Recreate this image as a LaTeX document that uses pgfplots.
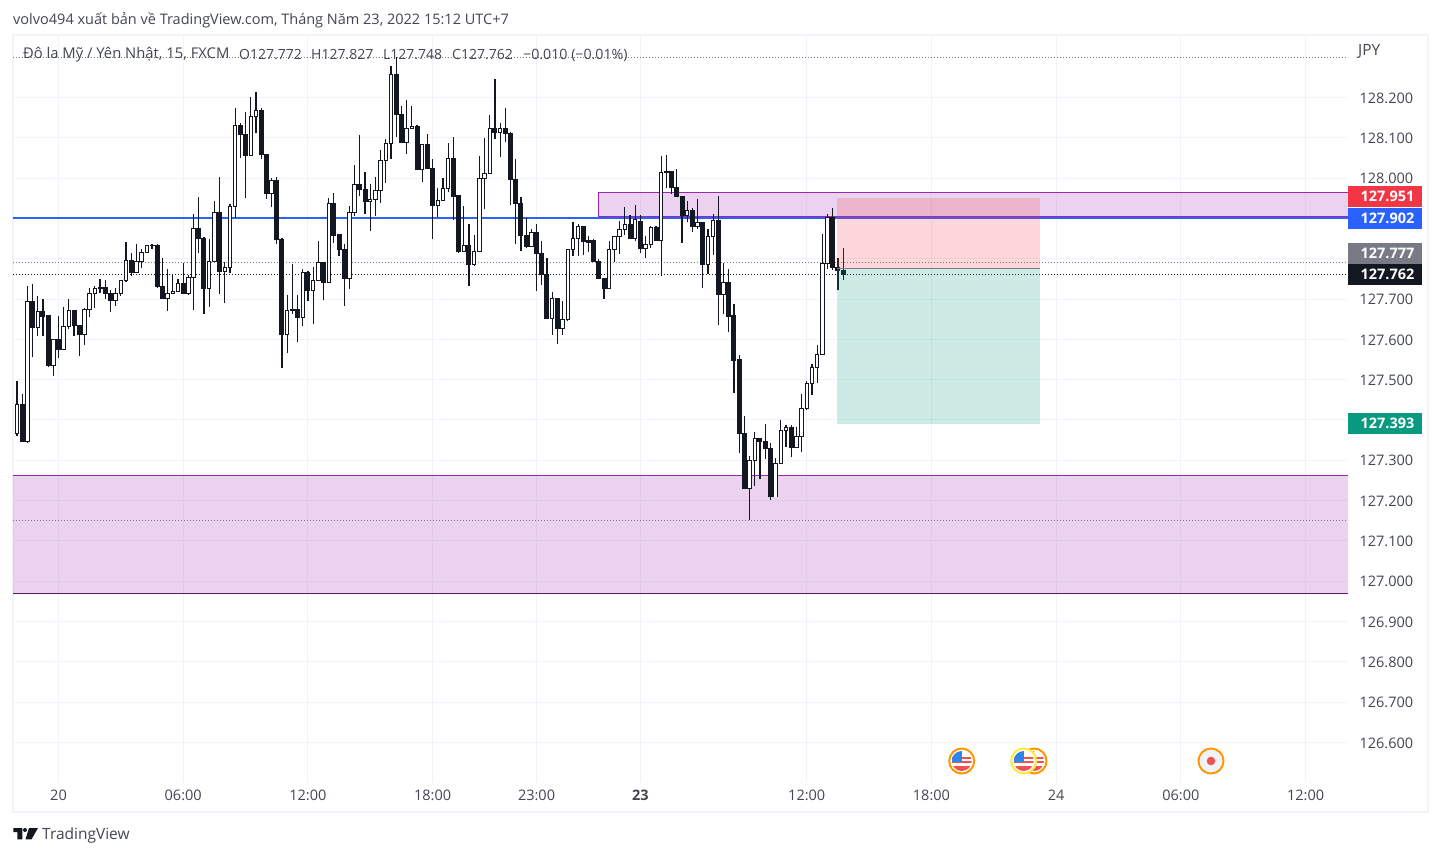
\documentclass[border=0pt]{standalone}
\usepackage{fontspec}
\setmainfont{Open Sans}
\usepackage{pgfplots}
\usepackage{pgfplotstable}
\pgfplotsset{compat=1.18}

\definecolor{candle}{HTML}{131722}
\definecolor{gridc}{HTML}{F0F3FA}
\definecolor{txt}{HTML}{434651}
\definecolor{zone}{HTML}{9C27B0}
\definecolor{tvblue}{HTML}{2962FF}
\definecolor{tvred}{HTML}{F23645}
\definecolor{tvgray}{HTML}{787B86}
\definecolor{tvteal}{HTML}{089981}
\definecolor{ringo}{HTML}{FF9800}
\definecolor{ringy}{HTML}{FFEB3B}
\definecolor{flagr}{HTML}{EF5350}
\definecolor{flagb}{HTML}{2E86E8}

% i open high low close, 15 minute candles
\pgfplotstableread{
i o h l c
-8 127.367 127.497 127.361 127.439
-6 127.346 127.732 127.344 127.694
-4 127.630 127.707 127.609 127.669
-1 127.535 127.600 127.510 127.600
1 127.575 127.680 127.575 127.632
2 127.632 127.700 127.625 127.672
5 127.612 127.679 127.586 127.674
6 127.674 127.727 127.656 127.714
7 127.714 127.732 127.677 127.727
11 127.697 127.727 127.684 127.714
12 127.714 127.747 127.707 127.746
13 127.746 127.841 127.743 127.796
15 127.766 127.836 127.766 127.793
16 127.793 127.823 127.778 127.816
17 127.816 127.833 127.816 127.833
21 127.702 127.774 127.671 127.714
22 127.714 127.761 127.714 127.719
23 127.719 127.750 127.718 127.739
25 127.714 127.760 127.710 127.754
26 127.754 127.910 127.674 127.875
29 127.726 127.848 127.681 127.793
30 127.793 127.943 127.793 127.915
32 127.769 127.793 127.691 127.779
33 127.779 127.937 127.765 127.930
34 127.930 128.173 127.902 128.131
37 128.056 128.201 128.056 128.153
38 128.153 128.213 128.113 128.168
41 127.961 128.000 127.929 127.994
44 127.612 127.710 127.567 127.672
47 127.655 127.774 127.633 127.766
49 127.722 127.779 127.638 127.746
50 127.746 127.843 127.746 127.791
52 127.741 127.951 127.741 127.937
56 127.750 127.932 127.726 127.915
57 127.915 128.032 127.907 127.985
60 127.942 127.985 127.869 127.947
61 127.947 128.002 127.907 127.970
62 127.970 128.070 127.938 128.044
63 128.044 128.096 127.989 128.086
64 128.086 128.278 128.047 128.257
67 128.088 128.195 128.061 128.123
68 128.123 128.178 128.123 128.128
70 128.022 128.084 127.990 128.084
73 127.932 127.975 127.903 127.945
74 127.945 128.000 127.945 127.975
75 127.975 128.086 127.966 128.049
78 127.817 127.932 127.817 127.833
80 127.786 127.859 127.783 127.818
81 127.818 128.055 127.818 127.999
82 127.999 128.099 127.923 128.012
83 128.012 128.157 128.012 128.123
85 128.114 128.136 128.052 128.123
91 127.831 127.875 127.830 127.865
95 127.652 127.717 127.611 127.702
97 127.626 127.695 127.611 127.650
98 127.650 127.823 127.645 127.823
99 127.823 127.890 127.808 127.851
100 127.851 127.885 127.808 127.880
106 127.726 127.843 127.726 127.823
107 127.823 127.856 127.792 127.856
108 127.856 127.894 127.812 127.873
109 127.873 127.928 127.859 127.885
111 127.851 127.933 127.844 127.898
113 127.825 127.856 127.802 127.836
114 127.836 127.880 127.827 127.878
116 127.845 128.055 127.758 128.014
121 127.908 127.943 127.890 127.920
123 127.880 127.947 127.875 127.890
125 127.786 127.875 127.762 127.855
126 127.855 127.911 127.809 127.895
128 127.711 127.789 127.663 127.741
133 127.230 127.310 127.152 127.300
134 127.300 127.369 127.236 127.354
138 127.209 127.305 127.209 127.292
139 127.292 127.401 127.292 127.374
140 127.374 127.387 127.333 127.381
142 127.331 127.382 127.331 127.359
143 127.359 127.464 127.320 127.429
144 127.429 127.496 127.424 127.491
145 127.491 127.540 127.463 127.530
146 127.530 127.587 127.491 127.563
147 127.563 127.861 127.563 127.788
148 127.788 127.912 127.774 127.902
}\upcandles

\pgfplotstableread{
i o h l c
-7 127.439 127.464 127.346 127.346
-5 127.694 127.737 127.557 127.630
-3 127.669 127.700 127.609 127.656
-2 127.658 127.660 127.531 127.535
0 127.600 127.657 127.554 127.575
3 127.672 127.674 127.609 127.635
4 127.635 127.635 127.559 127.612
8 127.729 127.750 127.714 127.726
9 127.729 127.747 127.699 127.714
10 127.714 127.722 127.669 127.697
14 127.796 127.813 127.757 127.766
18 127.834 127.836 127.824 127.832
19 127.833 127.836 127.728 127.731
20 127.731 127.803 127.701 127.701
24 127.739 127.789 127.712 127.714
27 127.875 127.953 127.814 127.850
28 127.850 127.855 127.664 127.726
31 127.915 128.002 127.713 127.769
35 128.131 128.136 128.049 128.109
36 128.109 128.163 127.951 128.056
39 128.168 128.173 128.048 128.058
40 128.059 128.059 127.948 127.961
42 127.994 128.002 127.837 127.847
43 127.848 127.851 127.530 127.612
45 127.674 127.787 127.663 127.672
46 127.674 127.710 127.594 127.655
48 127.766 127.770 127.696 127.720
51 127.791 127.791 127.698 127.741
53 127.937 127.962 127.839 127.857
54 127.859 127.859 127.808 127.822
55 127.823 127.836 127.683 127.750
58 127.985 128.106 127.956 127.971
59 127.972 128.015 127.912 127.942
65 128.257 128.300 128.101 128.157
66 128.158 128.179 128.086 128.088
69 128.128 128.132 128.021 128.021
71 128.084 128.109 128.024 128.024
72 128.024 128.047 127.849 127.932
76 128.049 128.101 127.896 127.954
77 127.956 127.958 127.814 127.817
79 127.833 127.886 127.732 127.786
84 128.123 128.246 128.098 128.113
86 128.123 128.173 128.090 128.111
87 128.111 128.115 127.933 127.996
88 127.997 128.047 127.837 127.937
89 127.937 127.953 127.820 127.857
90 127.858 127.900 127.827 127.830
92 127.865 127.885 127.721 127.813
93 127.813 127.843 127.736 127.761
94 127.761 127.803 127.650 127.651
96 127.702 127.703 127.589 127.626
101 127.880 127.880 127.809 127.843
102 127.845 127.856 127.817 127.841
103 127.845 127.848 127.792 127.793
104 127.793 127.799 127.750 127.750
105 127.751 127.751 127.701 127.726
110 127.885 127.908 127.850 127.850
112 127.893 127.908 127.815 127.825
115 127.878 127.880 127.844 127.844
117 128.016 128.057 127.975 128.014
118 128.016 128.016 127.961 127.976
119 127.977 128.023 127.954 127.954
120 127.955 127.956 127.840 127.907
122 127.920 127.926 127.866 127.880
124 127.890 127.890 127.728 127.786
127 127.895 127.955 127.635 127.711
129 127.741 127.774 127.618 127.656
130 127.658 127.687 127.467 127.547
131 127.549 127.561 127.318 127.366
132 127.367 127.411 127.229 127.229
135 127.354 127.354 127.254 127.346
136 127.347 127.391 127.304 127.329
137 127.329 127.344 127.201 127.209
141 127.381 127.387 127.308 127.331
149 127.902 127.927 127.772 127.778
150 127.778 127.803 127.722 127.771
151 127.772 127.827 127.748 127.762
}\downcandles

\newcommand{\fs}[1]{\fontsize{#1}{#1}\selectfont}
\newcommand{\usflag}[3]{%
  \fill[white] (#1,#2) circle (13);
  \begin{scope}
    \clip (#1,#2) circle (10);
    \fill[white] (#1-10,#2-10) rectangle (#1+10,#2+10);
    \fill[flagr] (#1-10,#2-4.5) rectangle (#1+10,#2-2.5);
    \fill[flagr] (#1-10,#2-0.5) rectangle (#1+10,#2+1.5);
    \fill[flagr] (#1-10,#2+5) rectangle (#1+10,#2+10);
    \fill[flagb] (#1-10,#2-10) rectangle (#1,#2+0.5);
  \end{scope}
  \draw[#3,line width=2] (#1,#2) circle (12.5);
}
% candle layers: error bars only, no plot line and no marks
\pgfplotsset{
  bars/.style 2 args={draw=none,no marks,forget plot,error bars/.cd,y dir=plus,y explicit,error mark=none,
    error bar style={draw=#1,line width=#2}},
}

\begin{document}
\begin{tikzpicture}[x=1pt,y=-1pt]
\path[use as bounding box,fill=white] (0,0) rectangle (1441,856);
\draw[gridc,line width=2] (13,35) rectangle (1428,812);

\begin{axis}[
    at={(13pt,-782pt)}, anchor=south west,
    scale only axis, width=1335pt, height=747pt,
    xmin=-8.757, xmax=248.17,
    ymin=126.502, ymax=128.355,
    axis line style={draw=none},
    major tick length=0pt,
    grid=major,
    grid style={gridc,line width=1pt},
    xtick={0,24,48,72,92,112,144,168,192,216,240},
    xticklabels={20,06:00,12:00,18:00,23:00,\textbf{23},12:00,18:00,24,06:00,12:00},
    ytick={126.6,126.7,126.8,126.9,127,127.1,127.2,127.3,127.4,127.5,127.6,127.7,127.8,127.9,128,128.1,128.2},
    yticklabels={126.600,126.700,126.800,126.900,127.000,127.100,127.200,127.300,{},127.500,127.600,127.700,{},{},128.000,128.100,128.200},
    yticklabel pos=right,
    tick label style={font=\fs{14.5},text=txt},
    yticklabel style={xshift=8pt,yshift=-0.5pt},
    xticklabel style={yshift=-4.5pt},
]
% zones
\addplot[draw=none,fill=zone,fill opacity=.2,forget plot] coordinates {(-8.757,127.263) (248.17,127.263) (248.17,126.970) (-8.757,126.970)} -- cycle;
\addplot[zone,line width=1pt,forget plot] coordinates {(-8.757,127.263) (248.17,127.263)};
\addplot[zone!60!black,line width=1pt,forget plot] coordinates {(-8.757,126.970) (248.17,126.970)};
\addplot[tvgray,line width=1pt,dash pattern=on 1pt off 2pt,forget plot] coordinates {(-8.757,127.151) (248.17,127.151)};
\addplot[draw=none,fill=zone,fill opacity=.2,forget plot] coordinates {(103.83,127.965) (248.17,127.965) (248.17,127.902) (103.83,127.902)} -- cycle;
\addplot[zone,line width=1pt,forget plot] coordinates {(248.17,127.965) (103.83,127.965) (103.83,127.904) (248.17,127.904)};
% horizontal levels
\addplot[draw=tvblue,line width=1.1pt,forget plot] coordinates {(-8.757,127.901) (248.17,127.901)};
\addplot[tvgray,line width=1pt,dash pattern=on 1pt off 2pt,forget plot] coordinates {(-8.757,128.298) (248.17,128.298)};
\addplot[tvgray,line width=1pt,dash pattern=on 1pt off 2pt,forget plot] coordinates {(-8.757,127.791) (248.17,127.791)};
\addplot[candle,line width=1pt,dash pattern=on 1pt off 2pt,forget plot] coordinates {(-8.757,127.762) (248.17,127.762)};
% wicks
\addplot[bars={candle}{1.2pt}]
  table[x=i,y=l,y error plus expr=\thisrow{h}-\thisrow{l}] {\upcandles};
\addplot[bars={candle}{1.2pt}]
  table[x=i,y=l,y error plus expr=\thisrow{h}-\thisrow{l}] {\downcandles};
% bodies
\addplot[bars={candle}{5pt}]
  table[x=i,y expr=\thisrow{c}-0.0012,y error plus expr=\thisrow{o}-\thisrow{c}+0.0024] {\downcandles};
\addplot[bars={candle}{4.4pt}]
  table[x=i,y expr=\thisrow{o}-0.0012,y error plus expr=\thisrow{c}-\thisrow{o}+0.0024] {\upcandles};
\addplot[bars={white}{2.4pt}]
  table[x=i,y expr=\thisrow{o}+0.0012,y error plus expr=\thisrow{c}-\thisrow{o}-0.0024] {\upcandles};
% short position tool
\addplot[draw=none,fill=tvred,fill opacity=.2,forget plot] coordinates {(149.83,127.951) (188.9,127.951) (188.9,127.777) (149.83,127.777)} -- cycle;
\addplot[draw=none,fill=tvteal,fill opacity=.2,forget plot] coordinates {(149.83,127.777) (188.9,127.777) (188.9,127.391) (149.83,127.391)} -- cycle;
\addplot[tvgray,line width=1pt,forget plot] coordinates {(149.83,127.777) (188.9,127.777)};
\end{axis}

% right scale labels
\foreach \yt/\yb/\col/\val in {186/207/tvred/127.951,208/229/tvblue/127.902,243/264/tvgray/127.777,264/285/candle/127.762,413/434/tvteal/127.393}{
  \fill[\col] (1348,\yt) rectangle (1422,\yb);
  \node[white,font=\fs{14.5}\bfseries,anchor=center] at (1387.5,{(\yt+\yb)/2}) {\val};
}
\node[txt,font=\fs{15.5},anchor=west,inner sep=0] at (1358,51) {JPY};

% header
\node[txt,font=\fs{14.5},anchor=west,inner sep=0] at (13,20) {volvo494 xuất bản về TradingView.com, Tháng Năm 23, 2022 15:12 UTC+7};
\node[txt,font=\fs{14.8},anchor=west,inner sep=0] at (23,55) {Đô la Mỹ / Yên Nhật, 15, FXCM};
\node[txt,font=\fs{14},anchor=west,inner sep=0] at (239,55) {O127.772};
\node[txt,font=\fs{14},anchor=west,inner sep=0] at (311,55) {H127.827};
\node[txt,font=\fs{14},anchor=west,inner sep=0] at (383,55) {L127.748};
\node[txt,font=\fs{14},anchor=west,inner sep=0] at (452,55) {C127.762};
\node[txt,font=\fs{14.2},anchor=west,inner sep=0] at (523,55) {−0.010 (−0.01\%)};

% event icons
\usflag{961.7}{761}{ringo}
\usflag{1034}{761}{ringo}
\usflag{1023.7}{761}{ringy}
\fill[white] (1211,761) circle (13);
\fill[gridc] (1211,761) circle (11);
\fill[flagr] (1211,761) circle (4.3);
\draw[ringo,line width=2] (1211,761) circle (12.5);

% logo
\fill[candle] (13.3,828) -- (22.3,828) -- (22.3,839.3) -- (17.3,839.3) -- (17.3,832) -- (13.3,832) -- cycle;
\fill[candle] (25,830) circle (2);
\fill[candle] (29,828) -- (38,828) -- (31.5,839.3) -- (25.5,839.3) -- cycle;
\node[txt,font=\fs{15.5},anchor=west,inner sep=0] at (42,835) {TradingView};
\end{tikzpicture}
\end{document}
